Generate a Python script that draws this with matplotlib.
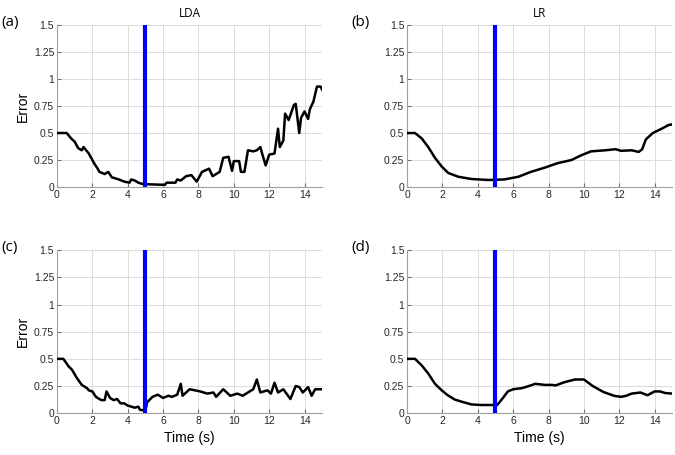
import matplotlib
matplotlib.use('Agg')
from matplotlib import pyplot as plt

# Panel (a): LDA, train window
lda_a_t = [0, 0.55, 0.8, 1.0, 1.2, 1.4, 1.5, 1.8, 2.1, 2.3, 2.4, 2.7, 2.9, 3.1,
           3.5, 3.8, 4.1, 4.2, 4.4, 4.6, 4.8, 5.2, 6.1, 6.2, 6.7, 6.8, 7.0,
           7.3, 7.6, 7.9, 8.2, 8.6, 8.8, 9.2, 9.4, 9.7, 9.9, 10.0, 10.3,
           10.4, 10.6, 10.8, 11.1, 11.3, 11.5, 11.6, 11.8, 12.0, 12.3, 12.5,
           12.6, 12.8, 12.9, 13.1, 13.4, 13.5, 13.7, 13.8, 14.0, 14.2, 14.3,
           14.5, 14.7, 14.9, 15.0]
lda_a_err = [0.50, 0.50, 0.45, 0.42, 0.36, 0.34, 0.37, 0.31, 0.22, 0.17, 0.14,
             0.12, 0.14, 0.09, 0.07, 0.05, 0.04, 0.07, 0.06, 0.04, 0.03, 0.025,
             0.02, 0.04, 0.04, 0.07, 0.06, 0.10, 0.11, 0.05, 0.14, 0.17, 0.10,
             0.14, 0.27, 0.28, 0.15, 0.24, 0.24, 0.14, 0.14, 0.34, 0.33, 0.34,
             0.37, 0.31, 0.20, 0.30, 0.31, 0.54, 0.37, 0.43, 0.68, 0.62, 0.76,
             0.77, 0.50, 0.64, 0.70, 0.63, 0.72, 0.79, 0.93, 0.93, 0.90]

# Panel (b): LR, train window
lr_b_t = [0, 0.45, 0.83, 1.2, 1.58, 1.96, 2.33, 2.9, 3.65, 4.6, 5.5, 6.3, 7.0,
          7.8, 8.5, 9.3, 9.8, 10.4, 11.2, 11.8, 12.1, 12.7, 13.1, 13.3, 13.5,
          13.9, 14.4, 14.8, 15.0]
lr_b_err = [0.50, 0.50, 0.45, 0.37, 0.27, 0.19, 0.13, 0.095, 0.074, 0.065,
            0.07, 0.095, 0.14, 0.18, 0.22, 0.25, 0.29, 0.33, 0.34, 0.35, 0.335,
            0.34, 0.325, 0.35, 0.44, 0.50, 0.54, 0.575, 0.58]

# Panel (c): LDA, adapted
lda_c_t = [0, 0.36, 0.66, 0.85, 1.1, 1.4, 1.7, 1.8, 2.0, 2.2, 2.5, 2.7, 2.8,
           3.0, 3.2, 3.4, 3.6, 3.8, 4.0, 4.2, 4.4, 4.6, 4.7, 5.0, 5.1, 5.4,
           5.7, 6.0, 6.3, 6.5, 6.8, 7.0, 7.1, 7.3, 7.5, 8.1, 8.5, 8.85, 9.0,
           9.4, 9.8, 10.2, 10.5, 11.1, 11.3, 11.5, 11.9, 12.1, 12.3, 12.5,
           12.8, 13.2, 13.5, 13.7, 13.9, 14.2, 14.4, 14.6, 15.0]
lda_c_err = [0.50, 0.50, 0.43, 0.40, 0.33, 0.26, 0.23, 0.21, 0.20, 0.15, 0.12,
             0.12, 0.20, 0.14, 0.12, 0.13, 0.09, 0.09, 0.07, 0.06, 0.05, 0.06,
             0.03, 0.025, 0.10, 0.15, 0.17, 0.14, 0.16, 0.15, 0.17, 0.27,
             0.16, 0.19, 0.22, 0.20, 0.18, 0.19, 0.15, 0.22, 0.16, 0.18, 0.16,
             0.22, 0.31, 0.19, 0.21, 0.18, 0.28, 0.19, 0.22, 0.13, 0.25, 0.24,
             0.19, 0.24, 0.16, 0.22, 0.22]

# Panel (d): LR, adapted
lr_d_t = [0, 0.45, 0.83, 1.2, 1.58, 1.96, 2.3, 2.7, 3.1, 3.65, 4.2, 5.1, 5.4,
          5.7, 6.0, 6.5, 6.9, 7.25, 7.8, 8.2, 8.4, 8.9, 9.5, 10.0, 10.5, 11.1,
          11.7, 12.1, 12.4, 12.7, 13.2, 13.6, 14.0, 14.3, 14.6, 15.0]
lr_d_err = [0.50, 0.50, 0.44, 0.365, 0.27, 0.21, 0.165, 0.125, 0.105, 0.08,
            0.075, 0.075, 0.135, 0.20, 0.22, 0.23, 0.25, 0.27, 0.26, 0.26,
            0.255, 0.285, 0.31, 0.31, 0.25, 0.195, 0.16, 0.15, 0.16, 0.18,
            0.19, 0.165, 0.20, 0.20, 0.185, 0.18]

_MARKER_T = 5
_X_TICKS = [0, 2, 4, 6, 8, 10, 12, 14]
_Y_TICKS = [0, 0.25, 0.5, 0.75, 1, 1.25, 1.5]
_Y_LABELS = ['0', '0.25', '0.5', '0.75', '1', '1.25', '1.5']

panels = [
    ('(a)', 'LDA', lda_a_t, lda_a_err, [0.0844, 0.589, 0.393, 0.356]),
    ('(b)', 'LR', lr_b_t, lr_b_err, [0.603, 0.589, 0.393, 0.356]),
    ('(c)', None, lda_c_t, lda_c_err, [0.0844, 0.092, 0.393, 0.358]),
    ('(d)', None, lr_d_t, lr_d_err, [0.603, 0.092, 0.393, 0.358]),
]

fig = plt.figure(figsize=(6.75, 4.55), dpi=100)
for i, (tag, title, t, err, pos) in enumerate(panels):
  ax = fig.add_axes(pos)
  ax.plot(t, err, color='black', linewidth=1.8, zorder=3)
  ax.axvline(_MARKER_T, color='#0000ff', linewidth=3.0, zorder=4)
  ax.set_xlim(0, 15)
  ax.set_ylim(0, 1.5)
  ax.set_xticks(_X_TICKS)
  ax.set_yticks(_Y_TICKS)
  ax.set_yticklabels(_Y_LABELS)
  ax.grid(True, color='#dcdcdc', linewidth=0.7)
  ax.set_axisbelow(True)
  for side in ('top', 'right'):
    ax.spines[side].set_visible(False)
  for side in ('left', 'bottom'):
    ax.spines[side].set_color('#a0a0a0')
  ax.tick_params(direction='in', length=3, color='#707070',
                 labelsize=7.5, labelcolor='#262626', pad=2)
  for lbl in ax.get_xticklabels() + ax.get_yticklabels():
    lbl.set_family('Liberation Sans')
  if i % 2 == 0:
    ax.set_ylabel('Error', fontsize=10, family='Liberation Sans', labelpad=3)
  if i >= 2:
    ax.set_xlabel('Time (s)', fontsize=10, family='Liberation Sans',
                  labelpad=4)
  if title:
    ax.set_title(title, fontsize=8.5, family='Open Sans', pad=6)
  fig.text(pos[0] - 0.082, pos[1] + pos[3] + 0.022, tag, fontsize=11,
           family='Open Sans', va='top', ha='left')

fig.savefig('out.png', dpi=100)
